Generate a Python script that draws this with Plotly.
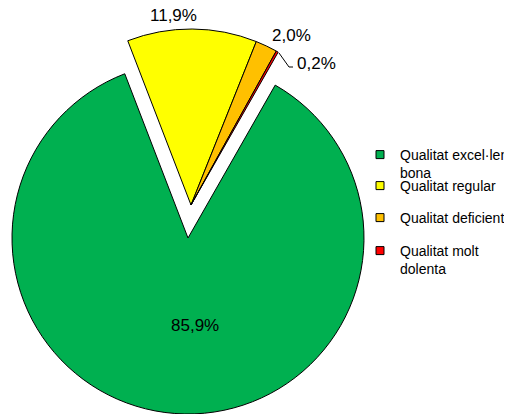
import plotly.graph_objects as go

# data
categories = ["Qualitat excel·lent i bona", "Qualitat regular", "Qualitat deficient", "Qualitat molt dolenta"]
legend_labels = ["Qualitat excel·lent i<br>bona", "Qualitat regular", "Qualitat deficient", "Qualitat molt<br>dolenta"]
values = [85.9, 11.9, 2.0, 0.2]
colors = ["#00B050", "#FFFF00", "#FFC000", "#FF0000"]

# figure is a bit wider than the window so the legend runs off the edge like the original
W, H = 560, 414
OFF = 8  # page body margin
clear = "rgba(0,0,0,0)"
fam = "Liberation Sans, Arial, sans-serif"


def px(x, y):
    # screen pixel (from top-left) -> paper coords
    return (x - OFF) / W, 1 - (y - OFF) / H


def dom(cx, cy, r):
    # pie domain from centre/radius in screen pixels
    x0, y0 = px(cx - r, cy + r)
    x1, y1 = px(cx + r, cy - r)
    return dict(x=[x0, x1], y=[y0, y1])


fig = go.Figure()

# base pie: only the big green slice is visible
fig.add_trace(go.Pie(
    labels=categories, values=values, sort=False, direction="clockwise", rotation=29.7,
    marker=dict(colors=[colors[0], clear, clear, clear],
                line=dict(color="#000000", width=[1, 0, 0, 0])),
    textinfo="none", domain=dom(188, 238, 176), showlegend=False, hoverinfo="skip",
))

# exploded part: the three small slices pulled out together
fig.add_trace(go.Pie(
    labels=categories, values=values, sort=False, direction="clockwise", rotation=29.7,
    marker=dict(colors=[clear] + colors[1:],
                line=dict(color="#000000", width=[0, 1, 1, 1])),
    textinfo="none", domain=dom(191, 205, 176), showlegend=False, hoverinfo="skip",
))

# data labels
lab = [f"{v:.1f}".replace(".", ",") + "%" for v in values]
lab_pos = [(195, 325, "center"), (173, 16, "center"), (291, 36, "center"), (295, 64, "left")]
for t, (x, y, anc) in zip(lab, lab_pos):
    ax, ay = px(x, y)
    fig.add_annotation(text=t, x=ax, y=ay, xref="paper", yref="paper", xanchor=anc,
                       yanchor="middle", showarrow=False,
                       font=dict(family=fam, size=17, color="#000000"))

# leader line for the smallest slice
p = [px(279, 53), px(289, 67), px(293, 67)]
fig.add_shape(type="path", xref="paper", yref="paper",
              path="M {} {} L {} {} L {} {}".format(*p[0], *p[1], *p[2]),
              line=dict(color="#000000", width=1))

# legend entries, one legend box each so spacing can follow the original
leg_top = [139, 170, 202, 235]
for i, (name, c) in enumerate(zip(legend_labels, colors)):
    key = "legend" if i == 0 else f"legend{i + 1}"
    fig.add_trace(go.Scatter(
        x=[None], y=[None], mode="markers", name=name, legend=key,
        marker=dict(symbol="square", size=8, color=c, line=dict(color="#000000", width=1)),
    ))
    lx, ly = px(360, leg_top[i])
    fig.update_layout({key: dict(x=lx, y=ly, xanchor="left", yanchor="top",
                                 font=dict(family=fam, size=14, color="#000000"),
                                 valign="top", bgcolor=clear)})

fig.update_layout(
    width=W, height=H, margin=dict(l=0, r=0, t=0, b=0, autoexpand=False),
    paper_bgcolor="white", plot_bgcolor="white",
    xaxis=dict(visible=False), yaxis=dict(visible=False),
)

fig.write_html("out.html")
